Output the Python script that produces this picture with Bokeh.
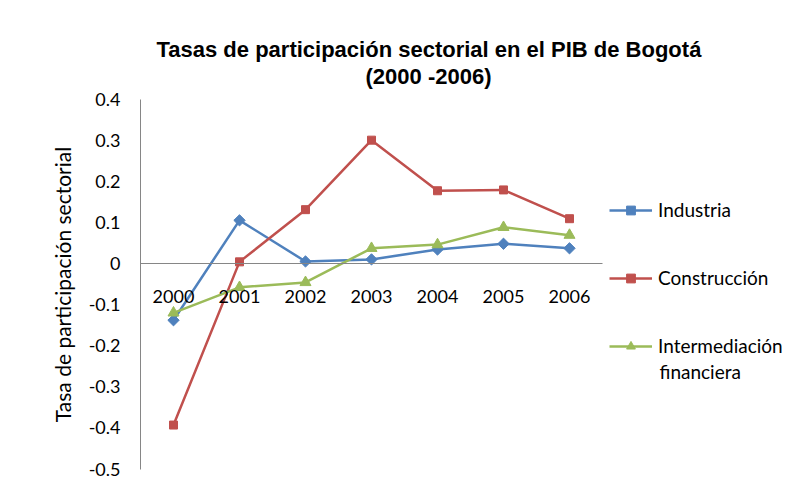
import numpy as np
from bokeh.plotting import figure
from bokeh.models import Range1d, FixedTicker, Label, Legend, LegendItem, Title
from bokeh.embed import file_html
from bokeh.resources import INLINE

# ---- data ----
years = [2000, 2001, 2002, 2003, 2004, 2005, 2006]
year_labels = ["2000", "2001", "2002", "2003", "2004", "2005", "2006"]
industria = [-0.138, 0.105, 0.005, 0.010, 0.034, 0.048, 0.037]
construccion = [-0.393, 0.004, 0.131, 0.300, 0.177, 0.179, 0.109]
intermediacion = [-0.120, -0.058, -0.046, 0.037, 0.046, 0.088, 0.069]
y_ticks = [-0.5, -0.4, -0.3, -0.2, -0.1, 0, 0.1, 0.2, 0.3, 0.4]
y_tick_labels = ["-0.5", "-0.4", "-0.3", "-0.2", "-0.1", "0", "0.1", "0.2", "0.3", "0.4"]
title_lines = ["Tasas de participación sectorial en el PIB de Bogotá", "(2000 -2006)"]
series_names = ["Industria", "Construcción", "Intermediación financiera"]
y_title = "Tasa de participación sectorial"

BLUE, RED, GREEN = "#4F81BD", "#C0504D", "#9BBB59"
FONT = "Lato"
AXIS_GRAY = "#868686"

# frame spans from the y axis to the right edge so that the legend stays
# inside it; axes are bounded to the real plot area
FL, FT, FB = 140, 88, 11
W, H = 809, 491
PX_PER_YEAR = 66.0
PX_PER_UNIT = 411.1
Y0_PX = 263.0                      # pixel row of value 0
x_start = years[0] - 0.5
x_end = x_start + (W - FL) / PX_PER_YEAR
y_end = (Y0_PX - FT) / PX_PER_UNIT
y_start = (Y0_PX - (H - FB)) / PX_PER_UNIT
FRAME_BOTTOM = H - FB

p = figure(width=W, height=H,
           x_range=Range1d(x_start, x_end), y_range=Range1d(y_start, y_end),
           output_backend="svg", toolbar_location=None,
           x_axis_location="above",
           min_border_left=FL, min_border_right=0,
           min_border_top=FT, min_border_bottom=FB)
p.outline_line_color = None
p.grid.visible = False

# y axis
ya = p.yaxis[0]
ya.bounds = (y_ticks[0], y_ticks[-1])
ya.ticker = FixedTicker(ticks=y_ticks)
ya.major_label_overrides = dict(zip(y_ticks, y_tick_labels))
ya.axis_line_color = AXIS_GRAY
ya.major_tick_line_color = None
ya.minor_tick_line_color = None
ya.major_label_standoff = 14
ya.major_label_text_font = FONT
ya.major_label_text_font_size = "18px"
ya.major_label_text_color = "#000000"
ya.axis_label = y_title
ya.axis_label_text_font = FONT
ya.axis_label_text_font_size = "21px"
ya.axis_label_text_font_style = "normal"
ya.axis_label_text_color = "#000000"
ya.axis_label_standoff = 11

# x axis crossing at zero, labels below the line
xa = p.xaxis[0]
xa.fixed_location = 0
xa.bounds = (years[0] - 0.5, years[-1] + 0.5)
xa.ticker = FixedTicker(ticks=years)
xa.major_label_overrides = dict(zip(years, year_labels))
xa.axis_line_color = AXIS_GRAY
xa.major_tick_line_color = None
xa.minor_tick_line_color = None
xa.major_label_standoff = -45
xa.major_label_text_font = FONT
xa.major_label_text_font_size = "18px"
xa.major_label_text_color = "#000000"

# two-line title, second line nearest the plot
for txt, off in [(title_lines[1], 225), (title_lines[0], 16)]:
    p.add_layout(Title(text=txt, align="left", offset=off, standoff=0,
                       text_font="Liberation Sans", text_font_style="bold",
                       text_font_size="22px", text_color="#000000"), "above")

items = []
specs = [(industria, BLUE, "square", 8, np.pi / 4),
         (construccion, RED, "square", 8, 0),
         (intermediacion, GREEN, "triangle", 11, 0)]
for i, (vals, col, mk, sz, ang) in enumerate(specs):
    l = p.line(years, vals, line_color=col, line_width=2.5)
    s = p.scatter(years, vals, marker=mk, size=sz, angle=ang,
                  fill_color=col, line_color=col)
    lab = series_names[i] if i < 2 else series_names[i].split(" ")[0]
    items.append(LegendItem(label=lab, renderers=[l, s]))

legend = Legend(items=items, location=(609 - FL, FRAME_BOTTOM - 357), padding=0, margin=0,
                spacing=45, label_height=22, glyph_height=22, glyph_width=43,
                label_standoff=6, border_line_color=None,
                background_fill_alpha=0,
                label_text_font=FONT, label_text_font_size="19px",
                label_text_color="#000000")
p.add_layout(legend, "center")

p.add_layout(Label(x=659 - FL, y=FRAME_BOTTOM - 371, x_units="screen", y_units="screen",
                   text=series_names[2].split(" ")[1], text_font=FONT,
                   text_font_size="19px", text_baseline="alphabetic",
                   text_color="#000000"))

open("out.html", "w").write(file_html(p, INLINE))
